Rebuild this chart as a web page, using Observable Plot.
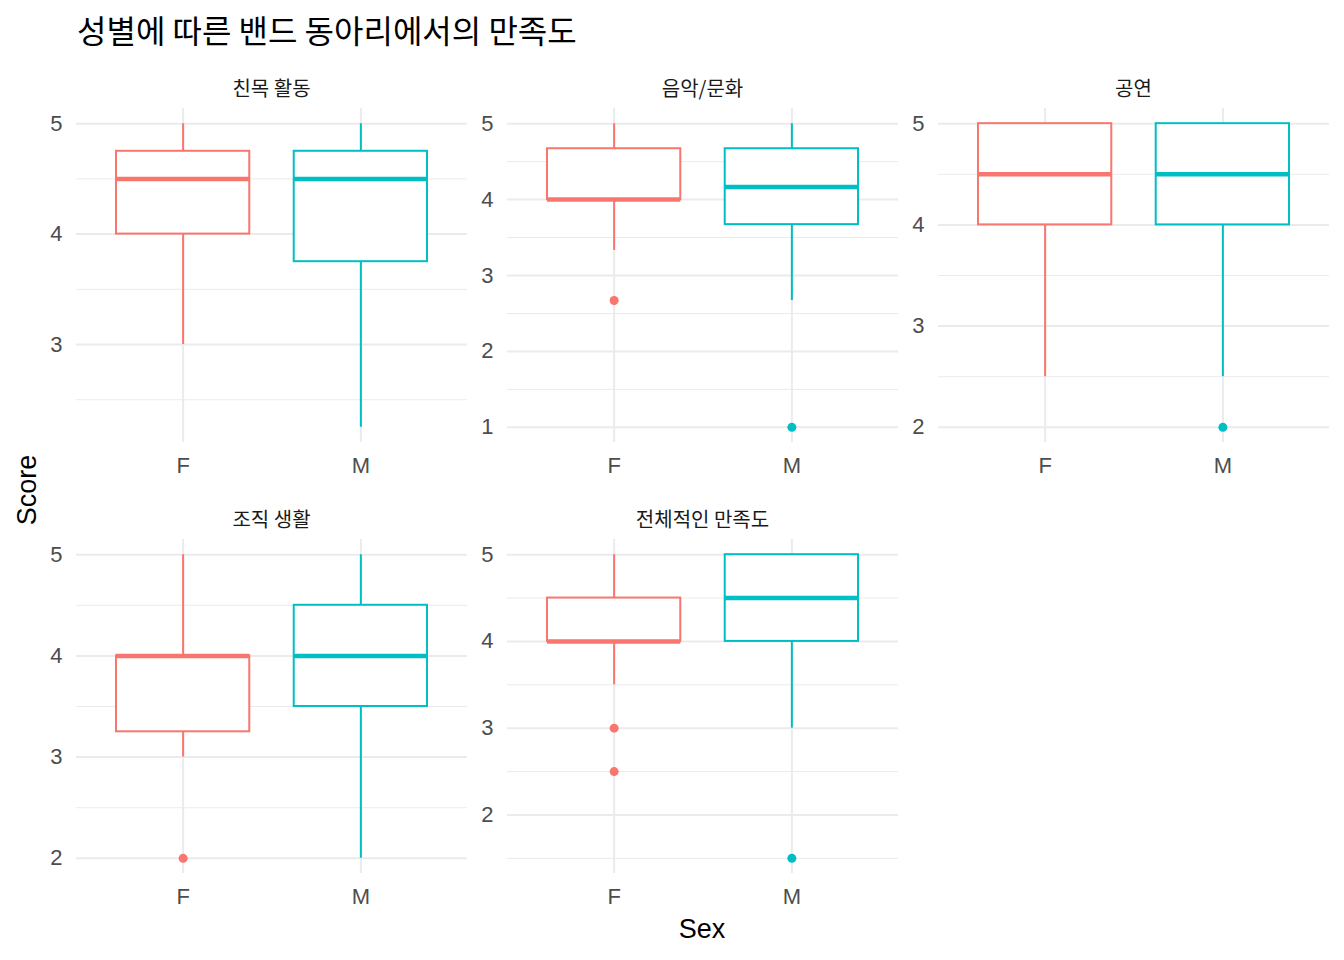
<!DOCTYPE html>
<html><head><meta charset="utf-8">
<script src="https://cdn.jsdelivr.net/npm/d3@7"></script>
<script src="https://cdn.jsdelivr.net/npm/@observablehq/plot@0.6"></script>
<style>
body{margin:0;background:#fff;}
#chart{position:relative;width:1344px;height:960px;background:#fff;overflow:hidden;}
.lab{position:absolute;white-space:nowrap;line-height:1;}
.kr{font-family:"Noto Sans CJK KR","Noto Sans",sans-serif;}
.en{font-family:"Liberation Sans",Arial,sans-serif;}
</style></head><body><div id="chart"></div>
<script>
// ---- data ----
const titleText = "성별에 따른 밴드 동아리에서의 만족도";
const xTitle = "Sex";
const yTitle = "Score";
const panels = ["친목 활동", "음악/문화", "공연", "조직 생활", "전체적인 만족도"];
const sexes = ["F", "M"];
const sexColors = ["#F8766D", "#00BFC4"];
// per panel: [F, M]
const q1 = [[4, 3.75], [4, 3.67], [4, 4], [3.25, 3.5], [4, 4]];
const median = [[4.5, 4.5], [4, 4.165], [4.5, 4.5], [4, 4], [4, 4.5]];
const q3 = [[4.75, 4.75], [4.67, 4.67], [5, 5], [4, 4.5], [4.5, 5]];
const whiskerLow = [[3, 2.25], [3.33, 2.67], [2.5, 2.5], [3, 2], [3.5, 3]];
const whiskerHigh = [[5, 5], [5, 5], [5, 5], [5, 5], [5, 5]];
const outliers = [[[], []], [[2.67], [1]], [[], [2]], [[2], []], [[3, 2.5], [1.5]]];
const yTicks = [[3, 4, 5], [1, 2, 3, 4, 5], [2, 3, 4, 5], [2, 3, 4, 5], [2, 3, 4, 5]];
const yMinor = [[2.5, 3.5, 4.5], [1.5, 2.5, 3.5, 4.5], [2.5, 3.5, 4.5], [2.5, 3.5, 4.5], [1.5, 2.5, 3.5, 4.5]];

// ---- layout ----
const chart = document.getElementById("chart");
const colLeft = [76, 507, 938], rowTop = [108, 539], PW = 391, PH = 334, ML = 70, MB = 50;
const GRID = "#EBEBEB";

function addLabel(text, cls, css) {
  const d = document.createElement("div");
  d.className = "lab " + cls;
  d.textContent = text;
  Object.assign(d.style, css);
  chart.appendChild(d);
  return d;
}

panels.forEach((name, i) => {
  const row = Math.floor(i / 3), col = i % 3;
  const boxes = sexes.map((s, j) => ({
    sex: s, q1: q1[i][j], med: median[i][j], q3: q3[i][j], lo: whiskerLow[i][j], hi: whiskerHigh[i][j]
  }));
  const outl = sexes.flatMap((s, j) => outliers[i][j].map(v => ({sex: s, v})));
  const all = [...boxes.flatMap(b => [b.lo, b.hi]), ...outl.map(o => o.v)];
  const lo = d3.min(all), hi = d3.max(all), pad = (hi - lo) * 0.05;
  const svg = Plot.plot({
    width: ML + PW, height: PH + MB,
    marginLeft: ML, marginRight: 0, marginTop: 0, marginBottom: MB,
    style: {background: "transparent", fontFamily: "'Liberation Sans', Arial, sans-serif", overflow: "visible"},
    x: {type: "band", domain: sexes, paddingInner: 0.25, paddingOuter: 0.225, round: false},
    y: {domain: [lo - pad, hi + pad]},
    color: {domain: sexes, range: sexColors},
    marks: [
      Plot.gridY(yMinor[i], {stroke: GRID, strokeOpacity: 1, strokeWidth: 1}),
      Plot.gridY(yTicks[i], {stroke: GRID, strokeOpacity: 1, strokeWidth: 2}),
      Plot.gridX(sexes, {stroke: GRID, strokeOpacity: 1, strokeWidth: 2}),
      Plot.ruleX(boxes, {x: "sex", y1: "lo", y2: "hi", stroke: "sex", strokeWidth: 2}),
      Plot.barY(boxes, {x: "sex", y1: "q1", y2: "q3", fill: "white", stroke: "sex", strokeWidth: 2}),
      Plot.tickY(boxes, {x: "sex", y: "med", stroke: "sex", strokeWidth: 4.5}),
      Plot.dot(outl, {x: "sex", y: "v", fill: "sex", r: 4.5}),
      Plot.axisY(yTicks[i], {tickSize: 0, tickPadding: 14, fontSize: 22, color: "#4D4D4D", label: null, tickFormat: d3.format("d")}),
      Plot.axisX(sexes, {tickSize: 0, tickPadding: 15, fontSize: 22, color: "#4D4D4D", label: null})
    ]
  });
  svg.style.position = "absolute";
  svg.style.left = (colLeft[col] - ML) + "px";
  svg.style.top = rowTop[row] + "px";
  chart.appendChild(svg);
  // strip label
  addLabel(name, "kr", {
    left: (colLeft[col] + PW / 2) + "px", top: (rowTop[row] - 20) + "px",
    transform: "translate(-50%,-50%)", fontSize: "20px", color: "#1A1A1A"
  });
});

addLabel(titleText, "kr", {left: "77px", top: "29px", transform: "translateY(-50%)", fontSize: "32px", color: "#000"});
addLabel(xTitle, "en", {left: "702px", top: "929px", transform: "translate(-50%,-50%)", fontSize: "27px", color: "#000"});
addLabel(yTitle, "en", {left: "27px", top: "490px", transform: "translate(-50%,-50%) rotate(-90deg)", fontSize: "27px", color: "#000"});
</script></body></html>
